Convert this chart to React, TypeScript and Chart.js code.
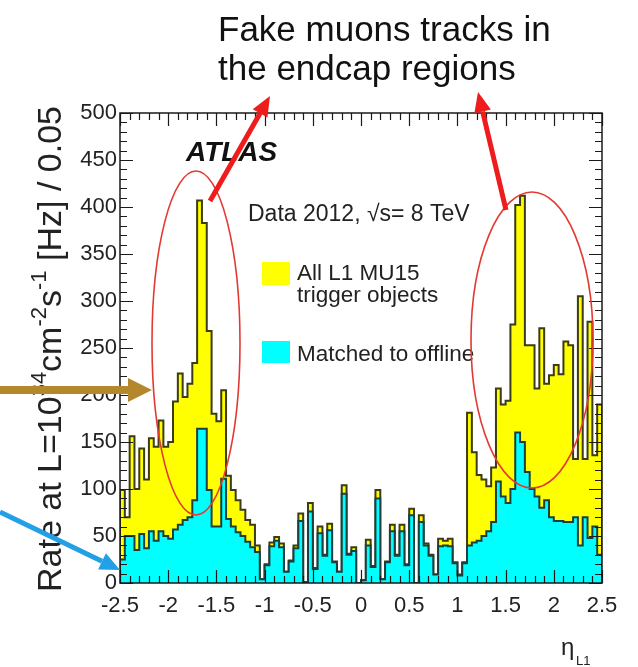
import React, { useEffect, useRef } from 'react';
import { Chart, registerables } from 'chart.js';

Chart.register(...registerables);

// Lower edges of the 0.05-wide eta bins
const binLowEdges: number[] = [
  -2.5, -2.45, -2.4, -2.35, -2.3, -2.25, -2.2, -2.15, -2.1, -2.05,
  -2.0, -1.95, -1.9, -1.85, -1.8, -1.75, -1.7, -1.65, -1.6, -1.55,
  -1.5, -1.45, -1.4, -1.35, -1.3, -1.25, -1.2, -1.15, -1.1, -1.05,
  -1.0, -0.95, -0.9, -0.85, -0.8, -0.75, -0.7, -0.65, -0.6, -0.55,
  -0.5, -0.45, -0.4, -0.35, -0.3, -0.25, -0.2, -0.15, -0.1, -0.05,
  0.0, 0.05, 0.1, 0.15, 0.2, 0.25, 0.3, 0.35, 0.4, 0.45,
  0.5, 0.55, 0.6, 0.65, 0.7, 0.75, 0.8, 0.85, 0.9, 0.95,
  1.0, 1.05, 1.1, 1.15, 1.2, 1.25, 1.3, 1.35, 1.4, 1.45,
  1.5, 1.55, 1.6, 1.65, 1.7, 1.75, 1.8, 1.85, 1.9, 1.95,
  2.0, 2.05, 2.1, 2.15, 2.2, 2.25, 2.3, 2.35, 2.4, 2.45,
];
const etaMax = 2.5;

// All L1 MU15 trigger objects (yellow)
const allRate: number[] = [
  99, 70, 156, 100, 143, 110, 154, 145, 173, 145,
  150, 193, 223, 198, 212, 234, 407, 383, 268, 180,
  172, 205, 114, 99, 88, 78, 67, 62, 40, 4,
  20, 43, 49, 42, 12, 24, 40, 74, 1, 85,
  16, 60, 30, 63, 23, 12, 104, 31, 38, 0,
  3, 46, 18, 99, 4, 23, 62, 30, 62, 20,
  79, 0, 72, 42, 30, 9, 47, 45, 47, 22,
  9, 22, 181, 139, 115, 110, 103, 123, 207, 190,
  194, 275, 402, 412, 253, 253, 207, 271, 212, 221,
  232, 222, 257, 253, 132, 305, 132, 278, 136, 190,
];

// Matched to offline (cyan)
const matchedRate: number[] = [
  25, 50, 50, 35, 52, 37, 55, 45, 55, 50,
  47, 57, 62, 67, 70, 88, 164, 164, 99, 60,
  60, 111, 68, 60, 54, 50, 44, 38, 33, 4,
  19, 39, 45, 38, 12, 23, 37, 66, 1, 76,
  15, 53, 29, 56, 22, 12, 95, 30, 34, 0,
  3, 40, 17, 90, 4, 22, 55, 29, 55, 19,
  72, 0, 65, 40, 29, 9, 39, 40, 39, 21,
  8, 21, 40, 43, 45, 50, 55, 65, 108, 92,
  85, 100, 160, 150, 118, 100, 92, 80, 88, 70,
  66, 66, 65, 65, 70, 40, 70, 48, 60, 30,
];

const xTickValues: number[] = [-2.5, -2, -1.5, -1, -0.5, 0, 0.5, 1, 1.5, 2, 2.5];
const xTickLabels: string[] = ['-2.5', '-2', '-1.5', '-1', '-0.5', '0', '0.5', '1', '1.5', '2', '2.5'];
const yTickValues: number[] = [0, 50, 100, 150, 200, 250, 300, 350, 400, 450, 500];
const yTickLabels: string[] = ['0', '50', '100', '150', '200', '250', '300', '350', '400', '450', '500'];

const titleLines: string[] = ['Fake muons tracks in', 'the endcap regions'];
const experimentLabel = 'ATLAS';
const dataLabel = 'Data 2012, \u221As= 8 TeV';
const allLabelLines: string[] = ['All L1 MU15', 'trigger objects'];
const matchedLabel = 'Matched to offline';
const yTitleParts: { t: string; sup: boolean }[] = [
  { t: 'Rate at L=10', sup: false },
  { t: '34', sup: true },
  { t: 'cm', sup: false },
  { t: '-2', sup: true },
  { t: 's', sup: false },
  { t: '-1', sup: true },
  { t: ' [Hz] / 0.05', sup: false },
];
const xTitle = '\u03B7';
const xTitleSub = 'L1';

const FONT = "'Liberation Sans', Arial, Helvetica, sans-serif";

function toSteps(vals: number[]) {
  const pts: { x: number; y: number }[] = [{ x: binLowEdges[0], y: 0 }];
  vals.forEach((v, i) => pts.push({ x: binLowEdges[i], y: v }));
  pts.push({ x: etaMax, y: vals[vals.length - 1] });
  pts.push({ x: etaMax, y: 0 });
  return pts;
}

function arrow(
  ctx: CanvasRenderingContext2D,
  x1: number, y1: number, x2: number, y2: number,
  w: number, hl: number, hw: number, color: string
) {
  const ang = Math.atan2(y2 - y1, x2 - x1);
  const bx = x2 - hl * Math.cos(ang);
  const by = y2 - hl * Math.sin(ang);
  ctx.save();
  ctx.strokeStyle = color;
  ctx.fillStyle = color;
  ctx.lineWidth = w;
  ctx.lineCap = 'butt';
  ctx.beginPath();
  ctx.moveTo(x1, y1);
  ctx.lineTo(bx, by);
  ctx.stroke();
  const px = -Math.sin(ang) * hw / 2;
  const py = Math.cos(ang) * hw / 2;
  ctx.beginPath();
  ctx.moveTo(x2, y2);
  ctx.lineTo(bx + px, by + py);
  ctx.lineTo(bx - px, by - py);
  ctx.closePath();
  ctx.fill();
  ctx.restore();
}

const overlay = {
  id: 'overlay',
  afterDatasetsDraw(chart: any) {
    const { ctx, chartArea: a, scales } = chart;
    const x = scales.x;
    const y = scales.y;
    ctx.save();
    ctx.strokeStyle = '#1a1a1a';
    ctx.lineWidth = 1.2;
    ctx.beginPath();
    for (let v = 0; v <= 500; v += 10) {
      const py = Math.round(y.getPixelForValue(v)) + 0.5;
      const len = v % 50 === 0 ? 13 : 7;
      ctx.moveTo(a.left, py);
      ctx.lineTo(a.left + len, py);
      ctx.moveTo(a.right, py);
      ctx.lineTo(a.right - len, py);
    }
    for (let k = -25; k <= 25; k++) {
      const px = Math.round(x.getPixelForValue(k / 10)) + 0.5;
      const len = k % 5 === 0 ? 13 : 7;
      ctx.moveTo(px, a.bottom);
      ctx.lineTo(px, a.bottom - len);
      ctx.moveTo(px, a.top);
      ctx.lineTo(px, a.top + len);
    }
    ctx.stroke();
    ctx.lineWidth = 1.5;
    ctx.strokeRect(a.left, a.top, a.right - a.left, a.bottom - a.top);
    ctx.restore();
  },
  afterDraw(chart: any) {
    const { ctx } = chart;
    ctx.save();
    ctx.fillStyle = '#111';
    ctx.textBaseline = 'alphabetic';
    ctx.textAlign = 'left';
    ctx.font = `35px ${FONT}`;
    ctx.fillText(titleLines[0], 218, 41);
    ctx.fillText(titleLines[1], 218, 80);
    ctx.font = `italic bold 28px ${FONT}`;
    ctx.fillText(experimentLabel, 186, 161);
    ctx.font = `23px ${FONT}`;
    ctx.fillStyle = '#222';
    ctx.fillText(dataLabel, 248, 221);
    ctx.fillStyle = '#ffff00';
    ctx.fillRect(262, 262, 28, 23);
    ctx.fillStyle = '#00ffff';
    ctx.fillRect(262, 341, 28, 22);
    ctx.fillStyle = '#222';
    ctx.font = `22.5px ${FONT}`;
    ctx.fillText(allLabelLines[0], 297, 280);
    ctx.fillText(allLabelLines[1], 297, 302);
    ctx.fillText(matchedLabel, 297, 361);
    ctx.font = `24px ${FONT}`;
    ctx.fillText(xTitle, 561, 655);
    ctx.font = `13px ${FONT}`;
    ctx.fillText(xTitleSub, 576, 665);
    ctx.save();
    ctx.translate(61, 592);
    ctx.rotate(-Math.PI / 2);
    let cx = 0;
    for (const p of yTitleParts) {
      if (p.sup) {
        ctx.font = `22px ${FONT}`;
        ctx.fillText(p.t, cx, -15);
      } else {
        ctx.font = `34px ${FONT}`;
        ctx.fillText(p.t, cx, 0);
      }
      cx += ctx.measureText(p.t).width;
    }
    ctx.restore();
    ctx.strokeStyle = '#e23a32';
    ctx.lineWidth = 1.6;
    ctx.beginPath();
    ctx.ellipse(196, 343, 44, 172, 0, 0, Math.PI * 2);
    ctx.stroke();
    ctx.beginPath();
    ctx.ellipse(532, 340, 61, 148, 0, 0, Math.PI * 2);
    ctx.stroke();
    arrow(ctx, 210, 201, 270, 96, 5, 20, 17, '#ee1c1c');
    arrow(ctx, 506, 210, 478, 92, 5, 20, 17, '#ee1c1c');
    arrow(ctx, 0, 390, 152, 390, 8, 24, 24, '#b5872c');
    arrow(ctx, 0, 512, 120, 570, 5, 20, 18, '#21a0e6');
    ctx.restore();
  },
};

export default function App() {
  const ref = useRef<HTMLCanvasElement>(null);
  useEffect(() => {
    const canvas = ref.current;
    if (!canvas) return;
    const chart = new Chart(canvas, {
      type: 'line',
      data: {
        datasets: [
          {
            label: matchedLabel,
            data: toSteps(matchedRate),
            stepped: 'before',
            fill: 'origin',
            backgroundColor: '#00ffff',
            borderColor: '#1c3f3f',
            borderWidth: 2,
            pointRadius: 0,
            order: 0,
          },
          {
            label: allLabelLines.join(' '),
            data: toSteps(allRate),
            stepped: 'before',
            fill: 'origin',
            backgroundColor: '#ffff00',
            borderColor: '#3b3b16',
            borderWidth: 2,
            pointRadius: 0,
            order: 1,
          },
        ],
      },
      options: {
        responsive: false,
        animation: false,
        devicePixelRatio: 1,
        layout: { padding: { top: 113, right: 36, left: 0, bottom: 0 } },
        plugins: { legend: { display: false }, tooltip: { enabled: false } },
        scales: {
          x: {
            type: 'linear',
            min: -2.5,
            max: 2.5,
            grid: { display: false, drawTicks: false },
            border: { display: false },
            afterFit: (s: any) => { s.height = 84; },
            afterBuildTicks: (s: any) => { s.ticks = xTickValues.map((v) => ({ value: v })); },
            ticks: {
              autoSkip: false,
              maxRotation: 0,
              padding: 10,
              color: '#222',
              font: { family: FONT, size: 22 },
              callback: (_v: any, i: number) => xTickLabels[i],
            },
          },
          y: {
            type: 'linear',
            min: 0,
            max: 500,
            grid: { display: false, drawTicks: false },
            border: { display: false },
            afterFit: (s: any) => { s.width = 120; },
            afterBuildTicks: (s: any) => { s.ticks = yTickValues.map((v) => ({ value: v })); },
            ticks: {
              autoSkip: false,
              padding: 3,
              color: '#222',
              font: { family: FONT, size: 22 },
              callback: (_v: any, i: number) => yTickLabels[i],
            },
          },
        },
      },
      plugins: [overlay],
    } as any);
    return () => chart.destroy();
  }, []);
  return (
    <div style={{ position: 'absolute', left: 0, top: 0, width: 638, height: 667, background: '#fff' }}>
      <canvas ref={ref} width={638} height={667} style={{ display: 'block' }} />
    </div>
  );
}
